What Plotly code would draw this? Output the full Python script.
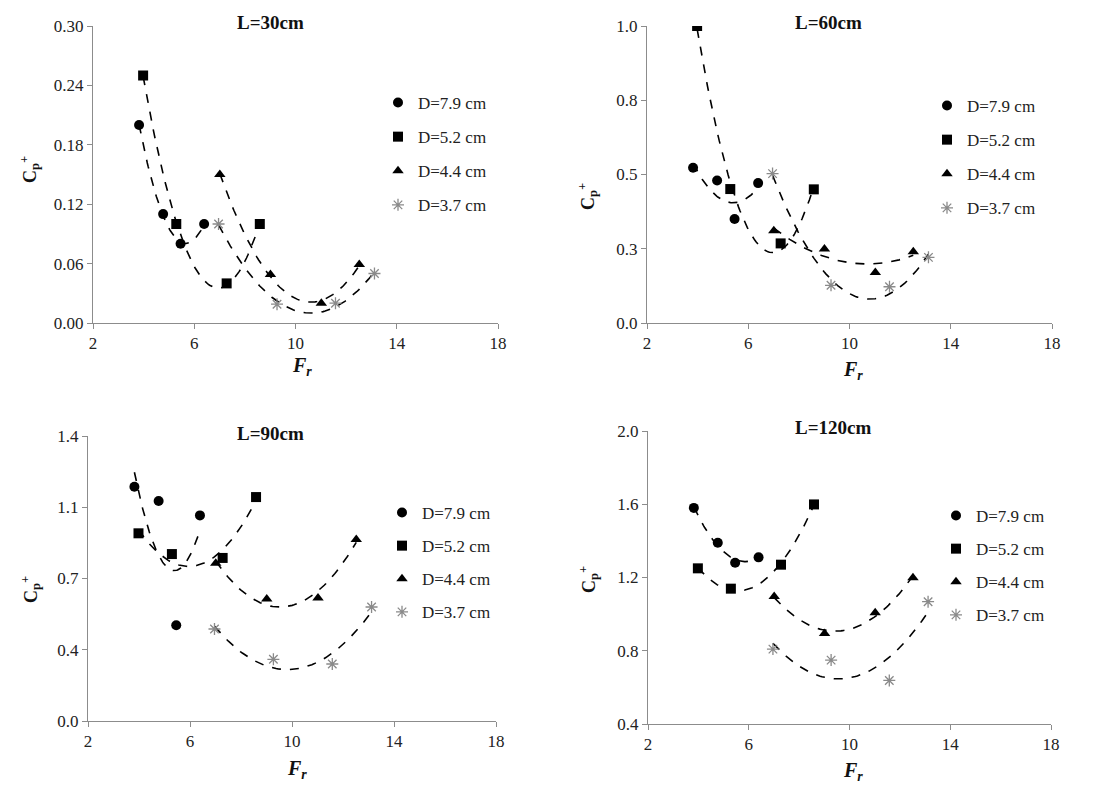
import numpy as np
import plotly.graph_objects as go

# ---------------- data ----------------
fr_d79 = [3.82, 4.77, 5.46, 6.39]
fr_d52 = [3.98, 5.29, 7.28, 8.59]
fr_d44 = [7.01, 9.01, 11.02, 12.52]
fr_d37 = [6.96, 9.27, 11.58, 13.12]

series_names = ["D=7.9 cm", "D=5.2 cm", "D=4.4 cm", "D=3.7 cm"]

# L = 30 cm
cp_L30_d79 = [0.200, 0.110, 0.080, 0.100]
cp_L30_d52 = [0.250, 0.100, 0.040, 0.100]
cp_L30_d44 = [0.150, 0.049, 0.020, 0.059]
cp_L30_d37 = [0.100, 0.019, 0.020, 0.050]

# L = 60 cm
cp_L60_d79 = [0.523, 0.480, 0.350, 0.471]
cp_L60_d52 = [1.000, 0.451, 0.268, 0.450]
cp_L60_d44 = [0.311, 0.249, 0.170, 0.240]
cp_L60_d37 = [0.503, 0.127, 0.122, 0.221]

# L = 90 cm
cp_L90_d79 = [1.151, 1.081, 0.470, 1.010]
cp_L90_d52 = [0.922, 0.820, 0.801, 1.100]
cp_L90_d44 = [0.775, 0.599, 0.604, 0.892]
cp_L90_d37 = [0.452, 0.303, 0.280, 0.560]

# L = 120 cm
cp_L120_d79 = [1.580, 1.390, 1.281, 1.310]
cp_L120_d52 = [1.250, 1.139, 1.270, 1.599]
cp_L120_d44 = [1.096, 0.894, 1.008, 1.199]
cp_L120_d37 = [0.809, 0.749, 0.638, 1.068]

panel_titles = ["L=30cm", "L=60cm", "L=90cm", "L=120cm"]

x_ticks = [2, 6, 10, 14, 18]
y_tickvals_L30 = [0.0, 0.06, 0.12, 0.18, 0.24, 0.30]
y_ticktext_L30 = ["0.00", "0.06", "0.12", "0.18", "0.24", "0.30"]
y_tickvals_L60 = [0.0, 0.25, 0.5, 0.75, 1.0]
y_ticktext_L60 = ["0.0", "0.3", "0.5", "0.8", "1.0"]
y_tickvals_L90 = [0.0, 0.35, 0.7, 1.05, 1.4]
y_ticktext_L90 = ["0.0", "0.4", "0.7", "1.1", "1.4"]
y_tickvals_L120 = [0.4, 0.8, 1.2, 1.6, 2.0]
y_ticktext_L120 = ["0.4", "0.8", "1.2", "1.6", "2.0"]

# ---------------- layout helpers ----------------
W, H = 1107, 785
FONT = "'Liberation Serif', 'Times New Roman', 'DejaVu Serif', Times, serif"
AXC = "#8c8c8c"

def px_x(p):
    return p / W

def px_y(p):
    return 1 - p / H

panels = [
    dict(xd=(93, 498), yd=(26, 323), yr=[0, 0.30], tv=y_tickvals_L30, tt=y_ticktext_L30,
         data=[cp_L30_d79, cp_L30_d52, cp_L30_d44, cp_L30_d37],
         title=(270, 23), xt=(302, 366), yt=(30, 170), leg=(378, 85), gap=9),
    dict(xd=(647, 1052), yd=(26, 323), yr=[0, 1.0], tv=y_tickvals_L60, tt=y_ticktext_L60,
         data=[cp_L60_d79, cp_L60_d52, cp_L60_d44, cp_L60_d37],
         title=(828, 23), xt=(853, 370), yt=(588, 197), leg=(927, 88), gap=9),
    dict(xd=(88, 496), yd=(436, 721), yr=[0, 1.4], tv=y_tickvals_L90, tt=y_ticktext_L90,
         data=[cp_L90_d79, cp_L90_d52, cp_L90_d44, cp_L90_d37],
         title=(270, 433), xt=(297, 769), yt=(30, 590), leg=(382, 495), gap=8),
    dict(xd=(648, 1051), yd=(431, 724), yr=[0.4, 2.0], tv=y_tickvals_L120, tt=y_ticktext_L120,
         data=[cp_L120_d79, cp_L120_d52, cp_L120_d44, cp_L120_d37],
         title=(833, 427), xt=(853, 771), yt=(588, 580), leg=(936, 498), gap=8),
]

fr_all = [fr_d79, fr_d52, fr_d44, fr_d37]
symbols = ["circle", "square", "triangle-up", "asterisk-open"]
colors = ["black", "black", "black", "#8a8a8a"]
sizes = [10, 10, 10, 10]

fig = go.Figure()
annotations = []
layout = {}

for i, p in enumerate(panels):
    k = "" if i == 0 else str(i + 1)
    xa, ya = "x" + k, "y" + k
    leg = "legend" if i == 0 else "legend" + str(i + 1)
    for j in range(4):
        xs = np.array(fr_all[j])
        ys = np.array(p["data"][j])
        coef = np.polyfit(xs, ys, 2)
        xf = np.linspace(xs.min(), xs.max(), 80)
        yf = np.polyval(coef, xf)
        fig.add_trace(go.Scatter(x=xf, y=yf, mode="lines", xaxis=xa, yaxis=ya,
                                 line=dict(color="black", width=1.6, dash="dash"),
                                 showlegend=False, hoverinfo="skip"))
        fig.add_trace(go.Scatter(x=xs, y=ys, mode="markers", xaxis=xa, yaxis=ya,
                                 name=series_names[j], legend=leg,
                                 legendgroup=f"p{i}s{j}",
                                 marker=dict(symbol=symbols[j], size=sizes[j], color=colors[j],
                                             line=dict(color=colors[j], width=1.3 if j == 3 else 0))))
    layout["xaxis" + k] = dict(domain=[px_x(p["xd"][0]), px_x(p["xd"][1])], range=[2, 18],
                               tickvals=x_ticks, anchor=ya, showline=True, linecolor=AXC,
                               linewidth=1, ticks="outside", tickcolor=AXC, ticklen=5,
                               showgrid=False, zeroline=False, automargin=False,
                               tickfont=dict(family=FONT, size=17, color="#222"))
    layout["yaxis" + k] = dict(domain=[px_y(p["yd"][1]), px_y(p["yd"][0])], range=p["yr"],
                               tickvals=p["tv"], ticktext=p["tt"], anchor=xa, showline=True,
                               linecolor=AXC, linewidth=1, ticks="outside", tickcolor=AXC,
                               ticklen=5, showgrid=False, zeroline=False, automargin=False,
                               tickfont=dict(family=FONT, size=17, color="#222"))
    layout[leg] = dict(x=px_x(p["leg"][0]), y=px_y(p["leg"][1]), xanchor="left", yanchor="top",
                       bgcolor="rgba(0,0,0,0)", tracegroupgap=p["gap"],
                       font=dict(family=FONT, size=17, color="#222"))
    annotations.append(dict(text="<b>" + panel_titles[i] + "</b>", x=px_x(p["title"][0]),
                            y=px_y(p["title"][1]), xref="paper", yref="paper", showarrow=False,
                            xanchor="center", yanchor="middle",
                            font=dict(family=FONT, size=19, color="#111")))
    annotations.append(dict(text="<b><i>F<sub>r</sub></i></b>", x=px_x(p["xt"][0]),
                            y=px_y(p["xt"][1]), xref="paper", yref="paper", showarrow=False,
                            xanchor="center", yanchor="middle",
                            font=dict(family=FONT, size=20, color="#111")))
    annotations.append(dict(text="<b>C<sub>p</sub><sup>+</sup></b>", x=px_x(p["yt"][0]),
                            y=px_y(p["yt"][1]), xref="paper", yref="paper", showarrow=False,
                            textangle=-90, xanchor="center", yanchor="middle",
                            font=dict(family=FONT, size=18, color="#111")))

fig.update_layout(width=W, height=H,
                  margin=dict(l=0, r=0, t=0, b=0, pad=0, autoexpand=False),
                  plot_bgcolor="white", paper_bgcolor="white",
                  font=dict(family=FONT),
                  annotations=annotations, **layout)

fig.write_html("out.html", config={"displayModeBar": False},
               post_script="document.body.style.margin='0';document.body.style.overflow='hidden';")
